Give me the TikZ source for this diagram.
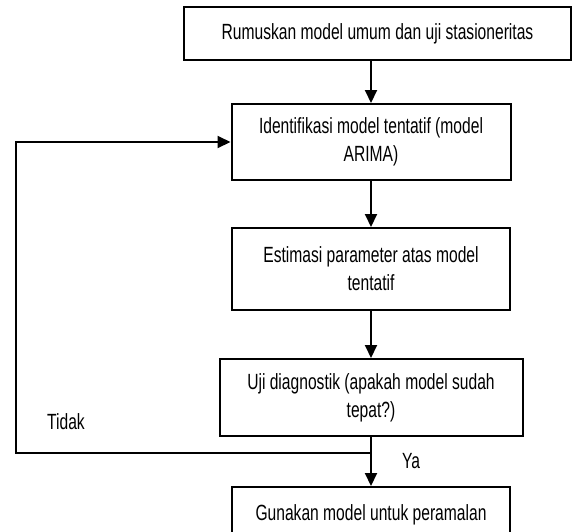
\documentclass[tikz,border=0pt]{standalone}
\usepackage{fontspec}
\setmainfont{Liberation Sans}[FakeStretch=0.71]
\usetikzlibrary{arrows.meta}

\begin{document}
\begin{tikzpicture}[x=1pt, y=-1pt,
		kotak/.style={draw, line width=2pt, align=center, inner sep=0pt, font=\fontsize{22}{28}\selectfont},
		panah/.style={line width=2pt, -{Triangle[length=13pt, width=12pt]}},
		keterangan/.style={font=\fontsize{22}{28}\selectfont}]
				\clip (0,0) rectangle (575,531);
				\node[kotak, minimum width=387, minimum height=53] (rumus) at (377.5,33.5) {Rumuskan model umum dan uji stasioneritas};
				\node[kotak, minimum width=279, minimum height=76] (identifikasi) at (371,142) {Identifikasi model tentatif (model\\ARIMA)};
				\node[kotak, minimum width=278, minimum height=82] (estimasi) at (371,269) {Estimasi parameter atas model\\tentatif};
				\node[kotak, minimum width=303, minimum height=77] (diagnostik) at (371,397.5) {Uji diagnostik (apakah model sudah\\tepat?)};
				\node[kotak, minimum width=278, minimum height=56] (guna) at (371,515) {Gunakan model untuk peramalan};
				\coordinate (cabang) at (371,453);
				\coordinate (sudut) at (16,453);
				\draw[panah] (rumus.south -| identifikasi.north) -- (identifikasi.north);
				\draw[panah] (identifikasi) -- (estimasi);
				\draw[panah] (estimasi) -- (diagnostik);
				\draw[panah] (diagnostik) -- (guna);
				\draw[panah] (cabang) -- (sudut) |- (identifikasi.west);
				\node[keterangan] (tidak) at (66,422) {Tidak};
				\node[keterangan] (ya) at (411,461) {Ya};
			\end{tikzpicture}
\end{document}
